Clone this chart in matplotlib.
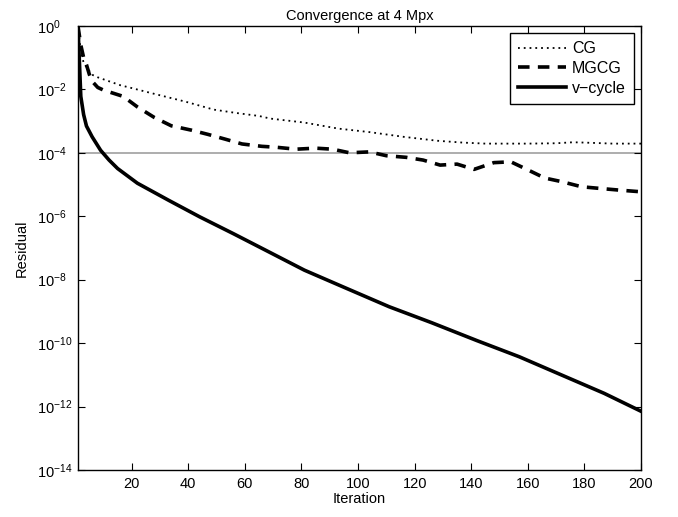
import matplotlib
matplotlib.use("Agg")
import matplotlib.pyplot as plt

plt.rcParams['font.family'] = ['Liberation Sans', 'DejaVu Sans']
plt.rcParams['mathtext.fontset'] = 'custom'
plt.rcParams['mathtext.rm'] = 'Liberation Sans'
plt.rcParams['mathtext.it'] = 'Liberation Sans:italic'

# residuals
cg_it = [1, 2, 3, 4, 6, 8, 12, 16, 20, 27, 39, 49, 57, 65, 69, 81, 93, 104,
         116, 128, 137, 145, 160, 170, 176, 180, 190, 200]
cg_res = [1.0, 1.5e-1, 7e-2, 5e-2, 2.9e-2, 2.4e-2, 1.8e-2, 1.35e-2, 1.1e-2,
          7.6e-3, 4.1e-3, 2.3e-3, 1.8e-3, 1.45e-3, 1.2e-3, 9e-4, 5.8e-4,
          4.5e-4, 3.2e-4, 2.4e-4, 2.1e-4, 1.95e-4, 1.95e-4, 2.0e-4, 2.15e-4,
          2.1e-4, 1.95e-4, 1.95e-4]

mgcg_it = [1, 2, 3, 4, 5, 6, 8, 10, 17, 22, 28, 34, 41, 47, 53, 59, 66, 71,
           78, 85, 91, 97, 104, 110, 117, 123, 129, 135, 141, 148, 154, 160,
           166, 172, 179, 185, 192, 200]
mgcg_res = [1.0, 2.5e-1, 1.0e-1, 6e-2, 3e-2, 1.8e-2, 1.15e-2, 9.5e-3, 6.0e-3,
            2.8e-3, 1.3e-3, 7.1e-4, 5.2e-4, 3.8e-4, 2.7e-4, 1.9e-4, 1.6e-4,
            1.5e-4, 1.3e-4, 1.4e-4, 1.3e-4, 1.0e-4, 1.07e-4, 8.1e-5, 7.2e-5,
            5.9e-5, 4.1e-5, 4.4e-5, 3.0e-5, 4.9e-5, 5.2e-5, 2.9e-5, 1.6e-5,
            1.23e-5, 8.5e-6, 7.6e-6, 6.7e-6, 5.9e-6]

vc_it = [1, 2, 3, 4, 6, 9, 12, 15, 22, 33, 44, 56, 68, 81, 94, 111, 126,
         142, 157, 172, 187, 200]
vc_res = [1.0, 6e-3, 1.6e-3, 7e-4, 3.2e-4, 1.2e-4, 5.9e-5, 3.2e-5, 1.1e-5,
          3.2e-6, 9.6e-7, 2.8e-7, 7.9e-8, 2.0e-8, 6.3e-9, 1.4e-9, 4.4e-10,
          1.2e-10, 3.7e-11, 9.8e-12, 2.6e-12, 7.1e-13]

tol = 1e-4

fig = plt.figure(figsize=(6.78, 5.17), dpi=100)
ax = fig.add_axes([0.115, 0.091, 0.8304, 0.8588])

ax.axhline(tol, color='#a0a0a0', lw=1.2, zorder=1)
ax.semilogy(cg_it, cg_res, color='k', lw=1.3, linestyle=(0, (1, 2.2)), label='CG')
ax.semilogy(mgcg_it, mgcg_res, color='k', lw=2.6, linestyle=(0, (3.2, 2.3)), label='MGCG')
ax.semilogy(vc_it, vc_res, color='k', lw=2.6, label='v\u2212cycle')

ax.set_xlim(1, 200)
ax.set_ylim(1e-14, 1e0)
ax.set_xticks(range(20, 201, 20))
ax.set_yticks([10.0 ** -k for k in range(0, 15, 2)])
ax.minorticks_off()
ax.tick_params(direction='in', length=5, width=0.8, top=True, right=True,
               labelsize=10.5)
ax.tick_params(axis='x', pad=5)
ax.tick_params(axis='y', pad=29.5)
for lab in ax.get_yticklabels():
    lab.set_ha('left')
for s in ax.spines.values():
    s.set_linewidth(1.0)

ax.set_xlabel('Iteration', fontsize=10.5, labelpad=1)
ax.set_ylabel('Residual', fontsize=10.5, labelpad=6)
ax.set_title('Convergence at 4 Mpx', fontsize=10.5, pad=4)

leg = ax.legend(loc='upper right', fontsize=11.5, frameon=True, fancybox=False,
                edgecolor='k', framealpha=1, borderaxespad=0.45,
                handlelength=3.0, handletextpad=0.35, labelspacing=0.3,
                borderpad=0.5)
leg.get_frame().set_linewidth(1.0)

fig.savefig('out.png', dpi=100)
